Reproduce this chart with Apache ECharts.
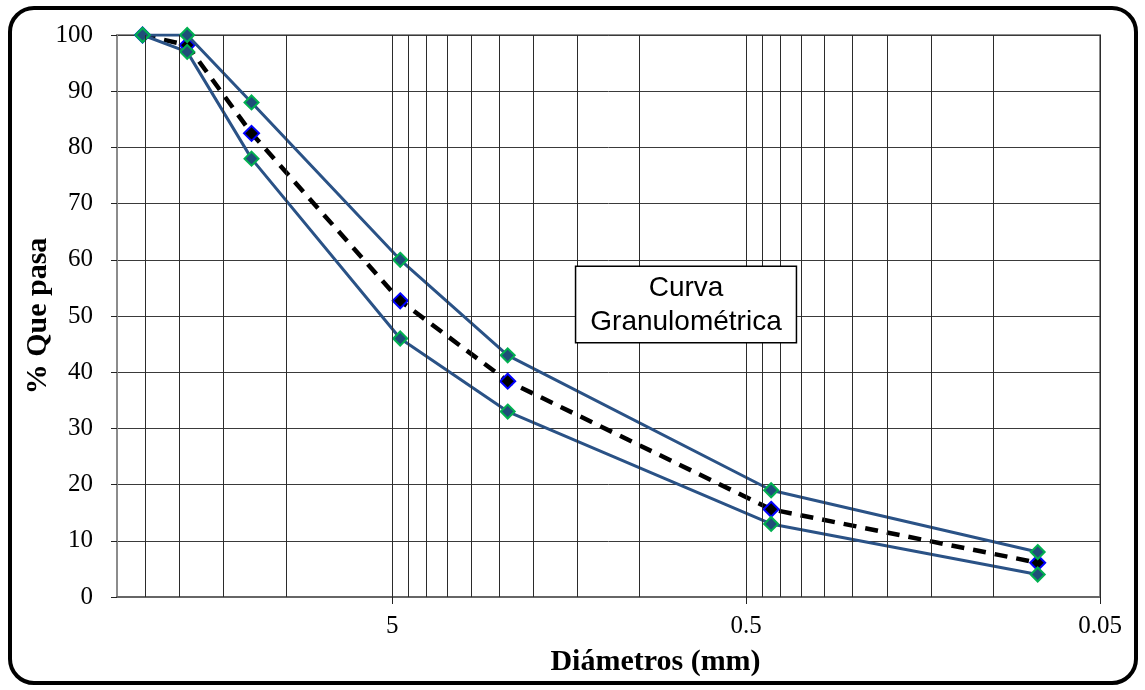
<!DOCTYPE html>
<html>
<head>
<meta charset="utf-8">
<title>Curva Granulométrica</title>
<script src="https://cdn.jsdelivr.net/npm/echarts@6/dist/echarts.min.js"></script>
<style>
  html, body { margin: 0; padding: 0; background: #fff; }
  #main { width: 1145px; height: 690px; }
</style>
</head>
<body>
<div id="main"></div>
<script>
// tamices (mm) y % que pasa
const sieveSizes = [25.4, 19.0, 12.5, 4.75, 2.36, 0.425, 0.075]
const upperLimit = [100, 100, 88, 60, 43, 19, 8]
const lowerLimit = [100, 97, 78, 46, 33, 13, 4]
const sampleCurve = [100, 98.2, 82.5, 52.7, 38.4, 15.6, 6.1]

const xTickLabels = [5, 0.5, 0.05]
const xGridValues = [
  25, 20, 15, 10, 5, 4.5, 4, 3.5, 3, 2.5, 2, 1.5, 1,
  0.5, 0.45, 0.4, 0.35, 0.3, 0.25, 0.2, 0.15, 0.1, 0.05,
]

const serif = '"Liberation Serif", "Times New Roman", serif'
const pairs = (ys) => sieveSizes.map((x, i) => [x, ys[i]])

const limitStyle = {
  type: 'line',
  symbol: 'diamond',
  symbolSize: 14,
  lineStyle: { color: '#2a5286', width: 3 },
  itemStyle: { color: '#1f4e79', borderColor: '#00b050', borderWidth: 2 },
  z: 4,
}

const chart = echarts.init(document.getElementById('main'), null, { renderer: 'canvas' })

chart.setOption({
  animation: false,
  backgroundColor: '#fff',
  grid: {
    left: 117, right: 45, top: 35, bottom: 93,
    containLabel: false,
    outerBoundsMode: 'none',
    show: true, borderColor: '#8c8c8c', borderWidth: 2,
  },
  xAxis: {
    type: 'log',
    logBase: 10,
    min: 0.05,
    max: 30,
    inverse: true,
    name: 'Diámetros (mm)',
    nameLocation: 'middle',
    nameGap: 50,
    nameTextStyle: {
      fontFamily: serif, fontSize: 30, fontWeight: 'bold', color: '#000',
      padding: [0, 0, 0, 94],
    },
    axisLine: { show: true, lineStyle: { color: '#666', width: 2 } },
    axisTick: {
      show: true, length: 7, customValues: xTickLabels,
      lineStyle: { color: '#222', width: 1 },
    },
    axisLabel: {
      customValues: xTickLabels,
      margin: 17,
      fontFamily: serif, fontSize: 25, color: '#000',
      formatter: (v) => String(v),
    },
    splitLine: { show: false },
  },
  yAxis: {
    type: 'value',
    min: 0,
    max: 100,
    interval: 10,
    name: '% Que pasa',
    nameLocation: 'middle',
    nameGap: 64,
    nameMoveOverlap: false,
    nameTextStyle: { fontFamily: serif, fontSize: 30, fontWeight: 'bold', color: '#000' },
    axisLine: { show: true, lineStyle: { color: '#8c8c8c', width: 2 } },
    axisTick: { show: true, length: 6, lineStyle: { color: '#222' } },
    axisLabel: { margin: 24, fontFamily: serif, fontSize: 25, color: '#000' },
    splitLine: { show: true, lineStyle: { color: '#3a3a3a', width: 1 } },
  },
  series: [
    {
      // lineas verticales de la grilla log
      type: 'line',
      data: [],
      silent: true,
      markLine: {
        silent: true,
        symbol: 'none',
        label: { show: false },
        lineStyle: { color: '#2b2b2b', width: 1, type: 'solid' },
        data: xGridValues.map((v) => ({ xAxis: v })),
      },
      z: 1,
    },
    {
      name: 'Muestra',
      type: 'line',
      data: pairs(sampleCurve),
      symbol: 'diamond',
      symbolSize: 15,
      lineStyle: { color: '#000', width: 4.5, type: [13, 9] },
      itemStyle: { color: '#000', borderColor: '#0000ff', borderWidth: 2 },
      z: 3,
    },
    Object.assign({ name: 'Limite superior', data: pairs(upperLimit) }, limitStyle),
    Object.assign({ name: 'Limite inferior', data: pairs(lowerLimit) }, limitStyle),
  ],
  graphic: [
    {
      type: 'rect',
      shape: { x: 10, y: 8, width: 1126, height: 675, r: 24 },
      style: { fill: 'none', stroke: '#000', lineWidth: 4 },
      silent: true,
    },
    {
      type: 'text',
      x: 686,
      y: 267,
      style: {
        text: 'Curva\nGranulométrica',
        font: '28px "Liberation Sans", Arial, sans-serif',
        fill: '#000',
        align: 'center',
        verticalAlign: 'top',
        lineHeight: 34,
        backgroundColor: '#fff',
        borderColor: '#000',
        borderWidth: 1.5,
        padding: [4, 14, 3, 14],
      },
      z: 10,
    },
  ],
})
</script>
</body>
</html>
